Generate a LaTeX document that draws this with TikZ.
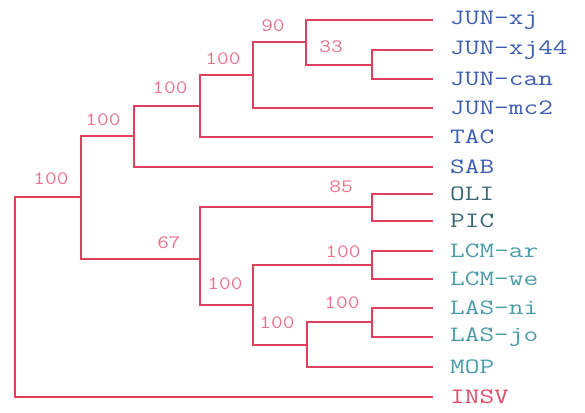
\documentclass[tikz,border=0pt]{standalone}
\usepackage{graphicx}
\definecolor{br}{HTML}{E0405E}
\definecolor{lb}{HTML}{E8738C}
\definecolor{jb}{HTML}{3A5DB2}
\definecolor{dt}{HTML}{386874}
\definecolor{tl}{HTML}{4A9CA8}
\definecolor{rd}{HTML}{E04A64}
\newcommand\widetxt[2]{\scalebox{#1}[1]{#2}}
\begin{document}
\begin{tikzpicture}[x=1bp,y=-1bp,
  br/.style={draw=br,line width=1.1bp},
  leaf/.style={anchor=west,inner sep=0pt,font=\fontsize{22}{22}\ttfamily},
  sup/.style={inner sep=0pt,text=lb,font=\fontsize{19}{19}\ttfamily}]
\useasboundingbox (0,0) rectangle (585,412);
% leaf ends
\foreach \n/\y in {xj/20,xjf/50,can/79,mc/108,tac/137,sab/167,oli/194,pic/221,lar/251,lwe/279,lni/308,ljo/337,mop/367,insv/397}
  \coordinate (e\n) at (433,\y);
% internal nodes
\coordinate (F) at (372,65);
\coordinate (E) at (306,42);
\coordinate (D) at (253,75);
\coordinate (C) at (200,106);
\coordinate (B) at (134,136);
\coordinate (H) at (372,207);
\coordinate (J) at (372,265);
\coordinate (L) at (372,322);
\coordinate (K) at (307,345);
\coordinate (I) at (253,305);
\coordinate (G) at (200,259);
\coordinate (A) at (81,197);
\coordinate (R) at (15,297);
% branches
\draw[br] (F) |- (exjf); \draw[br] (F) |- (ecan);
\draw[br] (E) |- (exj);  \draw[br] (E) |- (F);
\draw[br] (D) |- (E);    \draw[br] (D) |- (emc);
\draw[br] (C) |- (D);    \draw[br] (C) |- (etac);
\draw[br] (B) |- (C);    \draw[br] (B) |- (esab);
\draw[br] (H) |- (eoli); \draw[br] (H) |- (epic);
\draw[br] (J) |- (elar); \draw[br] (J) |- (elwe);
\draw[br] (L) |- (elni); \draw[br] (L) |- (eljo);
\draw[br] (K) |- (L);    \draw[br] (K) |- (emop);
\draw[br] (I) |- (J);    \draw[br] (I) |- (K);
\draw[br] (G) |- (H);    \draw[br] (G) |- (I);
\draw[br] (A) |- (B);    \draw[br] (A) |- (G);
\draw[br] (R) |- (A);    \draw[br] (R) |- (einsv);
% leaf labels
\node[leaf,text=jb] (txj) at (450,20) {\widetxt{1.3}{JUN-xj}};
\node[leaf,text=jb] (txjf) at (450,50) {\widetxt{1.3}{JUN-xj44}};
\node[leaf,text=jb] (tcan) at (450,79) {\widetxt{1.3}{JUN-can}};
\node[leaf,text=jb] (tmc) at (450,108) {\widetxt{1.3}{JUN-mc2}};
\node[leaf,text=jb] (ttac) at (450,137) {\widetxt{1.3}{TAC}};
\node[leaf,text=jb] (tsab) at (450,167) {\widetxt{1.3}{SAB}};
\node[leaf,text=dt] (toli) at (450,194) {\widetxt{1.3}{OLI}};
\node[leaf,text=dt] (tpic) at (450,221) {\widetxt{1.3}{PIC}};
\node[leaf,text=tl] (tlar) at (450,251) {\widetxt{1.3}{LCM-ar}};
\node[leaf,text=tl] (tlwe) at (450,279) {\widetxt{1.3}{LCM-we}};
\node[leaf,text=tl] (tlni) at (450,308) {\widetxt{1.3}{LAS-ni}};
\node[leaf,text=tl] (tljo) at (450,337) {\widetxt{1.3}{LAS-jo}};
\node[leaf,text=tl] (tmop) at (450,367) {\widetxt{1.3}{MOP}};
\node[leaf,text=rd] (tinsv) at (450,397) {\widetxt{1.3}{INSV}};
% support values
\node[sup] (sR) at (51,179) {\widetxt{1.2}{100}};
\node[sup] (sB) at (103,120) {\widetxt{1.2}{100}};
\node[sup] (sC) at (170,88) {\widetxt{1.2}{100}};
\node[sup] (sD) at (223,59) {\widetxt{1.2}{100}};
\node[sup] (sE) at (273,26) {\widetxt{1.2}{90}};
\node[sup] (sF) at (331,47) {\widetxt{1.2}{33}};
\node[sup] (sH) at (341,187) {\widetxt{1.2}{85}};
\node[sup] (sG) at (169,243) {\widetxt{1.2}{67}};
\node[sup] (sI) at (225,284) {\widetxt{1.2}{100}};
\node[sup] (sK) at (277,323) {\widetxt{1.2}{100}};
\node[sup] (sJ) at (343,252) {\widetxt{1.2}{100}};
\node[sup] (sL) at (342,303) {\widetxt{1.2}{100}};
\end{tikzpicture}
\end{document}
